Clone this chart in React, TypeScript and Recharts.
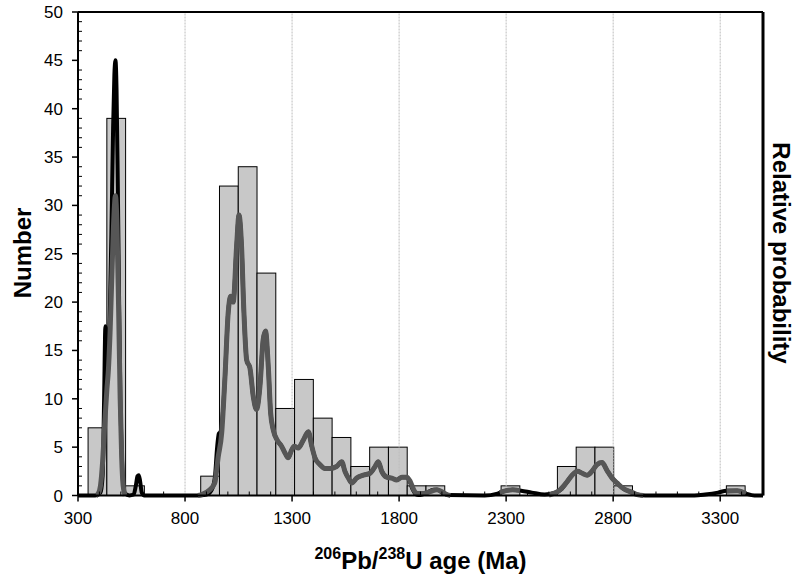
import React from "react";
import {
  ComposedChart,
  Bar,
  Line,
  XAxis,
  YAxis,
  ReferenceLine,
  Label,
} from "recharts";

// histogram bins (centre of each ~88 Ma bin) and counts
const binCenters = [
  390.9, 478.6, 566.3, 917.1, 1004.8, 1092.5, 1180.2, 1267.9, 1355.6, 1443.3,
  1531.0, 1618.7, 1706.4, 1794.1, 1881.8, 1969.5, 2320.3, 2583.4, 2671.1,
  2758.8, 2846.5, 3372.7,
];
const binCounts = [
  7, 39, 1, 2, 32, 34, 23, 9, 12, 8, 6, 3, 5, 5, 1, 1, 1, 3, 5, 5, 1, 1,
];

// black probability curve (all analyses)
const blackAge = [
  300, 380, 405, 415, 422, 428, 434, 440, 448, 456, 464, 470, 475, 480, 486,
  492, 498, 505, 512, 520, 540, 560, 570, 578, 584, 590, 598, 610, 860, 900,
  925, 940, 950, 958, 966, 975, 986, 1002, 1013, 1025, 1041, 1052, 1064, 1075,
  1088, 1103, 1119, 1134, 1150, 1165, 1176, 1189, 1200, 1212, 1231, 1251,
  1267, 1282, 1298, 1310, 1329, 1352, 1376, 1392, 1407, 1430, 1454, 1477,
  1508, 1532, 1547, 1563, 1579, 1602, 1633, 1664, 1688, 1703, 1719, 1742,
  1766, 1789, 1813, 1836, 1850, 1864, 1880, 1900, 1930, 1960, 1980, 2000,
  2030, 2200, 2260, 2300, 2330, 2370, 2420, 2480, 2530, 2560, 2584, 2608,
  2634, 2655, 2678, 2701, 2725, 2748, 2771, 2795, 2818, 2849, 2880, 2912,
  2950, 3180, 3230, 3290, 3330, 3380, 3420, 3460, 3500,
];
const blackProb = [
  0, 0, 0.3, 2, 10, 17.5, 15, 13, 18, 27, 38, 43.5, 45, 42, 32, 20, 10, 4, 1,
  0.2, 0, 0.1, 1, 2, 2.1, 1.5, 0.3, 0, 0, 0.1, 0.6, 2, 5, 6.4, 6.6, 8, 12, 19,
  20.6, 20, 25.8, 29, 25.8, 19, 14, 13.2, 10.2, 8.9, 11.3, 16.1, 17, 13.3,
  8.5, 6.8, 5.7, 5.1, 4.4, 3.9, 4.7, 5.1, 4.9, 5.7, 6.6, 5.1, 3.9, 3.2, 2.8,
  2.8, 3.0, 3.5, 2.5, 1.8, 1.3, 1.8, 2.1, 2.3, 3.0, 3.5, 2.5, 1.9, 1.8, 1.6,
  1.9, 1.9, 1.4, 0.6, 0.1, 0.05, 0.3, 0.6, 0.6, 0.3, 0.05, 0, 0.2, 0.5, 0.6,
  0.5, 0.3, 0.1, 0.3, 0.7, 1.4, 2.1, 2.5, 2.3, 2.1, 2.5, 3.2, 3.4, 2.6, 1.8,
  1.3, 0.7, 0.4, 0.1, 0, 0, 0.1, 0.3, 0.5, 0.5, 0.2, 0, 0,
];

// grey probability curve (concordant analyses), null = gap
const grayAge = [
  385, 395, 405, 415, 425, 435, 442, 450, 460, 468, 475, 482, 490, 497, 504,
  511, 520, 700, 860, 877, 916, 939, 955, 971, 986, 1002, 1013, 1025, 1041,
  1052, 1064, 1075, 1088, 1103, 1119, 1134, 1150, 1165, 1176, 1189, 1200,
  1212, 1231, 1251, 1267, 1282, 1298, 1310, 1329, 1352, 1376, 1392, 1407,
  1430, 1454, 1477, 1508, 1532, 1547, 1563, 1579, 1602, 1633, 1664, 1688,
  1703, 1719, 1742, 1766, 1789, 1813, 1836, 1851, 1866, 1883, 1914, 1945,
  1976, 2000, 2023, 2040, 2150, 2270, 2300, 2330, 2365, 2430, 2500, 2553,
  2584, 2608, 2634, 2655, 2678, 2701, 2725, 2748, 2771, 2795, 2818, 2849,
  2880, 2912, 2940, 3100, 3330, 3380, 3420,
];
const grayProb = [
  0, 0.2, 1, 3.5, 7.5, 11, 13, 17, 24, 29, 31, 28, 19, 10, 4, 1, 0, null, 0,
  0.1, 0.6, 1.3, 4, 6.4, 12, 19, 20.6, 20, 25.8, 29, 25.8, 19, 14, 13.2, 10.2,
  8.9, 11.3, 16.1, 17, 13.3, 8.5, 6.8, 5.7, 5.1, 4.4, 3.9, 4.7, 5.1, 4.9, 5.7,
  6.6, 5.1, 3.9, 3.2, 2.8, 2.8, 3.0, 3.5, 2.5, 1.8, 1.3, 1.8, 2.1, 2.3, 3.0,
  3.5, 2.5, 1.9, 1.8, 1.6, 1.9, 1.9, 1.5, 0.7, 0.2, 0.2, 0.4, 0.6, 0.4, 0.1,
  0, null, 0.3, 0.5, 0.6, 0.5, null, 0.05, 0.6, 1.4, 2.1, 2.5, 2.3, 2.1, 2.5,
  3.2, 3.4, 2.6, 1.8, 1.3, 0.7, 0.4, 0.1, 0, null, 0.45, 0.5, 0.2,
];

const xLabelTicks = [300, 800, 1300, 1800, 2300, 2800, 3300];
const xGridLines = [800, 1300, 1800, 2300, 2800, 3300];
const yLabelTicks = [0, 5, 10, 15, 20, 25, 30, 35, 40, 45, 50];

const xAllTicks = Array.from({ length: 33 }, (_, i) => 300 + i * 100);
const yAllTicks = Array.from({ length: 51 }, (_, i) => i);

const FONT = "'Liberation Sans', Arial, sans-serif";
const BAR_W = 18.76; // px width of one bin

const histData = binCenters.map((age, i) => ({ age, count: binCounts[i] }));
const blackData = blackAge.map((age, i) => ({ age, p: blackProb[i] }));
const grayData = grayAge.map((age, i) => ({ age, p: grayProb[i] }));

// bar on a numeric axis gets squeezed, so draw it at full bin width around its centre
const HistBar = (props: any) => {
  const { x, y, width, height } = props;
  if (!height) return null;
  const cx = x + width / 2;
  return (
    <rect
      x={cx - BAR_W / 2}
      y={y}
      width={BAR_W}
      height={height}
      fill="#c8c8c8"
      stroke="#000"
      strokeWidth={1}
    />
  );
};

const XTick = (props: any) => {
  const { x, y, payload } = props;
  const major = xLabelTicks.includes(payload.value);
  return (
    <g>
      {major ? (
        <line x1={x} x2={x} y1={y} y2={y + 6} stroke="#000" strokeWidth={1.5} />
      ) : (
        <line x1={x} x2={x} y1={y} y2={y - 4} stroke="#000" strokeWidth={1} />
      )}
      {major && (
        <text x={x} y={y + 28} textAnchor="middle" fontSize={17} fontFamily={FONT} fill="#000">
          {payload.value}
        </text>
      )}
    </g>
  );
};

const YTick = (props: any) => {
  const { x, y, payload } = props;
  const major = yLabelTicks.includes(payload.value);
  return (
    <g>
      {major ? (
        <line x1={x} x2={x - 6} y1={y} y2={y} stroke="#000" strokeWidth={1.5} />
      ) : (
        <line x1={x} x2={x + 4} y1={y} y2={y} stroke="#000" strokeWidth={1} />
      )}
      {major && (
        <text x={x - 15} y={y + 6} textAnchor="end" fontSize={17} fontFamily={FONT} fill="#000">
          {payload.value}
        </text>
      )}
    </g>
  );
};

export default function App() {
  return (
    <div style={{ position: "absolute", left: 0, top: 0, background: "#fff" }}>
      <ComposedChart
        width={797}
        height={583}
        data={histData}
        margin={{ top: 12, right: 0, bottom: 0, left: 0 }}
      >
        {xGridLines.map((v) => (
          <ReferenceLine
            key={v}
            x={v}
            yAxisId="left"
            stroke="#bdbdbd"
            strokeDasharray="2 1"
          />
        ))}

        <Bar
          yAxisId="left"
          dataKey="count"
          barSize={BAR_W}
          shape={<HistBar />}
          isAnimationActive={false}
        />

        <Line
          yAxisId="left"
          data={blackData}
          dataKey="p"
          type="monotone"
          stroke="#000"
          strokeWidth={4}
          dot={false}
          isAnimationActive={false}
        />
        <Line
          yAxisId="left"
          data={grayData}
          dataKey="p"
          type="monotone"
          stroke="#565656"
          strokeWidth={5}
          dot={false}
          isAnimationActive={false}
        />

        <ReferenceLine y={50} yAxisId="left" stroke="#000" strokeWidth={2} />

        <XAxis
          dataKey="age"
          type="number"
          domain={[300, 3500]}
          ticks={xAllTicks}
          interval={0}
          allowDataOverflow
          height={87.5}
          tickSize={0}
          tickMargin={0}
          tickLine={false}
          axisLine={{ stroke: "#000", strokeWidth: 2 }}
          tick={<XTick />}
        >
          <Label
            content={(p: any) => {
              const vb = p.viewBox || {};
              const cx = vb.x + vb.width / 2;
              return (
                <text x={cx} y={569} textAnchor="middle" fontWeight="bold" fontSize={24} fontFamily={FONT} fill="#000">
                  <tspan fontSize={16} dy={-10}>206</tspan>
                  <tspan dy={10}>Pb/</tspan>
                  <tspan fontSize={16} dy={-10}>238</tspan>
                  <tspan dy={10}>U age (Ma)</tspan>
                </text>
              );
            }}
          />
        </XAxis>
        <YAxis
          yAxisId="left"
          type="number"
          domain={[0, 50]}
          ticks={yAllTicks}
          interval={0}
          width={78}
          tickSize={0}
          tickMargin={0}
          tickLine={false}
          axisLine={{ stroke: "#000", strokeWidth: 2 }}
          tick={<YTick />}
        >
          <Label
            content={() => (
              <text
                x={31}
                y={253}
                transform="rotate(-90 31 253)"
                textAnchor="middle"
                fontWeight="bold"
                fontSize={24}
                fontFamily={FONT}
                fill="#000"
              >
                Number
              </text>
            )}
          />
        </YAxis>
        <YAxis
          yAxisId="right"
          orientation="right"
          domain={[0, 1]}
          width={34}
          tick={false}
          tickLine={false}
          axisLine={{ stroke: "#000", strokeWidth: 3 }}
        >
          <Label
            content={() => (
              <text
                x={773}
                y={253}
                transform="rotate(90 773 253)"
                textAnchor="middle"
                fontWeight="bold"
                fontSize={24}
                fontFamily={FONT}
                fill="#000"
              >
                Relative probability
              </text>
            )}
          />
        </YAxis>
      </ComposedChart>
    </div>
  );
}
